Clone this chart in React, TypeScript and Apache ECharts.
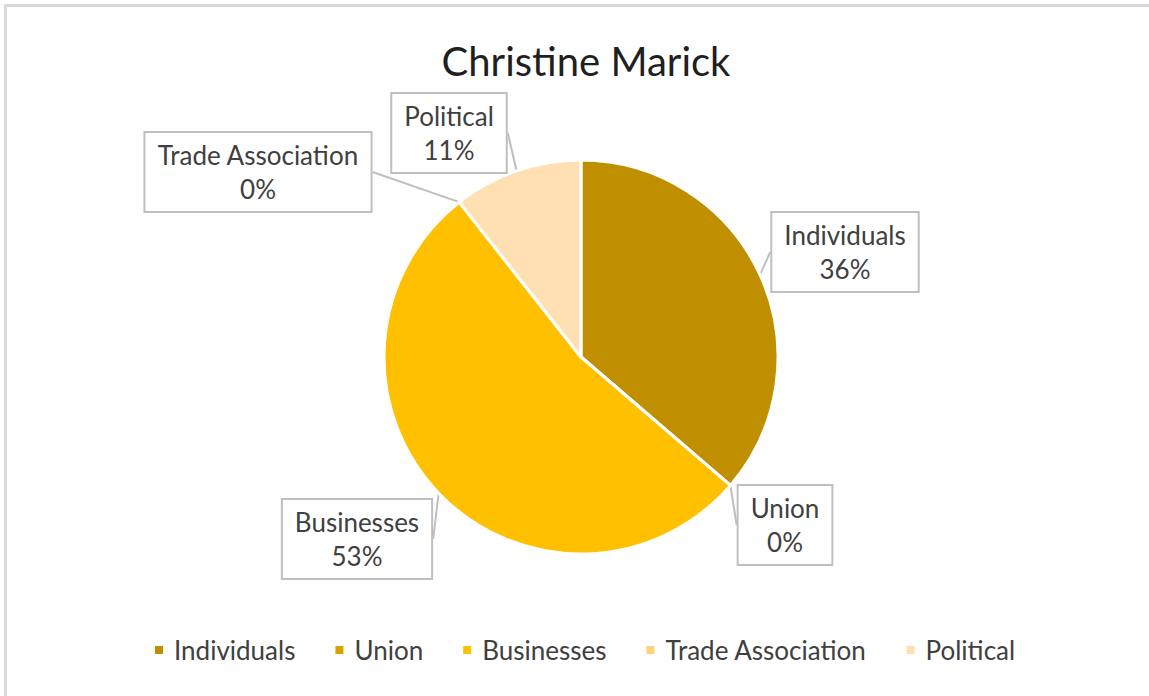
import React, { useEffect, useRef } from "react";
import * as echarts from "echarts";

const titleText = "Christine Marick";
const categories = ["Individuals", "Union", "Businesses", "Trade Association", "Political"];
const shares = [36.3, 0, 53.1, 0, 10.6];
const colors = ["#BF8F00", "#DAA200", "#FFC000", "#FFD27F", "#FFE0B3"];
// label box centres (layout only)
const labelSpots: [number, number][] = [
  [845, 252],
  [785, 525],
  [357, 539],
  [258, 172],
  [449, 133],
];

const FONT = "Lato, 'Open Sans', sans-serif";

export default function App() {
  const ref = useRef<HTMLDivElement>(null);
  useEffect(() => {
    if (!ref.current) return;
    const chart = echarts.init(ref.current, undefined, { renderer: "svg" });
    chart.setOption({
      animation: false,
      backgroundColor: "#ffffff",
      color: colors,
      title: {
        text: titleText,
        left: 581,
        textAlign: "center",
        top: 36,
        textStyle: { fontFamily: FONT, fontSize: 40, fontWeight: "normal", color: "#1f1f1f" },
      },
      legend: {
        bottom: 28,
        left: 148,
        icon: "rect",
        itemWidth: 10,
        itemHeight: 10,
        itemGap: 38,
        textStyle: { fontFamily: FONT, fontSize: 26, color: "#404040", padding: [0, 0, 0, 5] },
        data: categories,
      },
      graphic: [
        {
          type: "rect",
          shape: { x: 5.5, y: 5.5, width: 1200, height: 800 },
          style: { fill: "none", stroke: "#d9d9d9", lineWidth: 3 },
          silent: true,
        },
      ],
      series: [
        {
          type: "pie",
          center: [581, 357],
          radius: 197,
          startAngle: 90,
          clockwise: true,
          avoidLabelOverlap: false,
          minShowLabelAngle: 0,
          itemStyle: { borderColor: "#ffffff", borderWidth: 3 },
          label: {
            show: true,
            position: "outside",
            formatter: (p: any) => `${p.name}\n${Math.round(p.percent)}%`,
            fontFamily: FONT,
            fontSize: 26,
            lineHeight: 34,
            color: "#404040",
            align: "center",
            backgroundColor: "#ffffff",
            borderColor: "#bfbfbf",
            borderWidth: 2,
            padding: [5, 12, 5, 12],
          },
          labelLine: {
            show: true,
            length: 6,
            length2: 0,
            lineStyle: { color: "#bfbfbf", width: 2 },
          },
          labelLayout: (params: any) => {
            const s = labelSpots[params.dataIndex];
            return { x: s[0], y: s[1], align: "center", verticalAlign: "middle", moveOverlap: null };
          },
          emphasis: { disabled: true },
          data: categories.map((name, i) => ({ name, value: shares[i] })),
        },
      ],
    });
    return () => chart.dispose();
  }, []);
  return (
    <div
      ref={ref}
      style={{ position: "fixed", left: 0, top: 0, width: 1149, height: 696 }}
    />
  );
}
